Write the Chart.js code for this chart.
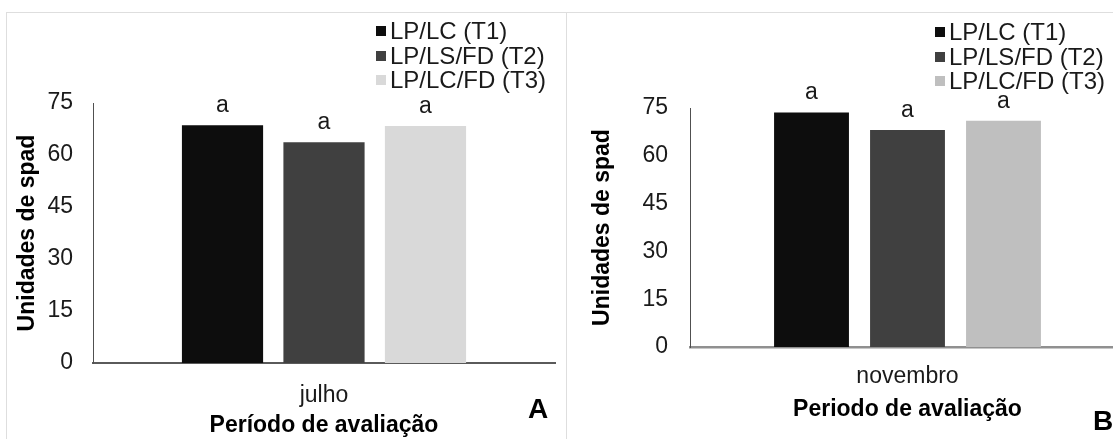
<!DOCTYPE html>
<html>
<head>
<meta charset="utf-8">
<script src="https://cdn.jsdelivr.net/npm/chart.js@4.4.1/dist/chart.umd.min.js"></script>
<style>
  html, body { margin: 0; padding: 0; background: #fff; width: 1113px; height: 439px; overflow: hidden; }
  body { position: relative; font-family: "Liberation Sans", Arial, sans-serif; color: #1a1a1a; }
  .panel { position: absolute; box-sizing: border-box; border: 1.5px solid #dedede; border-bottom: none; }
  canvas { position: absolute; top: 0; }
  .legend { position: absolute; font-size: 24px; line-height: 24.5px; color: #1a1a1a; }
  .legend .row { display: flex; align-items: center; white-space: nowrap; }
  .legend .box { width: 10px; height: 10px; margin-right: 4px; flex: none; }
  .tag { position: absolute; font-weight: bold; font-size: 28px; line-height: 32px; color: #000; }
</style>
</head>
<body>
<div class="panel" style="left:6px;top:12px;width:561px;height:440px;"></div>
<div class="panel" style="left:566px;top:12px;width:560px;height:440px;border-right:none;"></div>
<canvas id="chartA" width="566" height="439" style="left:0px;"></canvas>
<canvas id="chartB" width="580" height="439" style="left:566px;"></canvas>
<div class="legend" id="legendA" style="left:376px;top:19px;"></div>
<div class="legend" id="legendB" style="left:935px;top:20px;"></div>
<div class="tag" style="left:528px;top:393px;">A</div>
<div class="tag" style="left:1093px;top:405px;">B</div>
<script>
// ---- data ----
const categoriesA = ['julho'];
const categoriesB = ['novembro'];
const seriesNames = ['LP/LC (T1)', 'LP/LS/FD (T2)', 'LP/LC/FD (T3)'];
const valuesA = [68.6, 63.7, 68.4];
const valuesB = [73.6, 68.1, 71.0];
const lettersA = ['a', 'a', 'a'];
const lettersB = ['a', 'a', 'a'];
const yTickMin = 0, yTickMax = 75, yTickStep = 15;
const yTitle = 'Unidades de spad';
const xTitleA = 'Período de avaliação';
const xTitleB = 'Periodo de avaliação';
const coloursA = ['#0d0d0d', '#404040', '#d9d9d9'];
const coloursB = ['#0d0d0d', '#404040', '#bfbfbf'];

const FONT = '"Liberation Sans", Arial, sans-serif';

function buildLegend(id, colours) {
  const el = document.getElementById(id);
  seriesNames.forEach((n, i) => {
    const row = document.createElement('div');
    row.className = 'row';
    const b = document.createElement('span');
    b.className = 'box';
    b.style.background = colours[i];
    const t = document.createElement('span');
    t.textContent = n;
    row.appendChild(b); row.appendChild(t);
    el.appendChild(row);
  });
}
buildLegend('legendA', coloursA);
buildLegend('legendB', coloursB);

const letterPlugin = {
  id: 'letters',
  afterDatasetsDraw(chart, args, opts) {
    const ctx = chart.ctx;
    ctx.save();
    ctx.font = '23px ' + FONT;
    ctx.fillStyle = '#1a1a1a';
    ctx.textAlign = 'center';
    ctx.textBaseline = 'alphabetic';
    chart.data.datasets.forEach((ds, i) => {
      const meta = chart.getDatasetMeta(i);
      const bar = meta.data[0];
      ctx.fillText(opts.letters[i], bar.x, bar.y - 13);
    });
    ctx.restore();
  }
};

function makeChart(id, cfg) {
  const datasets = seriesNames.map((n, i) => ({
    label: n,
    data: [cfg.values[i]],
    backgroundColor: cfg.colours[i],
    borderWidth: 0,
    categoryPercentage: cfg.catPct,
    barPercentage: cfg.barPct
  }));
  return new Chart(document.getElementById(id), {
    type: 'bar',
    data: { labels: cfg.categories, datasets },
    plugins: [letterPlugin],
    options: {
      responsive: false,
      animation: false,
      devicePixelRatio: 1,
      layout: { padding: { top: cfg.plotTop, right: cfg.padRight, left: 0, bottom: 0 } },
      plugins: {
        legend: { display: false },
        tooltip: { enabled: false },
        letters: { letters: cfg.letters }
      },
      scales: {
        x: {
          grid: { display: false, drawTicks: false, tickLength: 0 },
          border: { display: true, color: cfg.xBorderColor, width: cfg.xBorderWidth },
          ticks: { color: '#1a1a1a', font: { family: FONT, size: 23 }, padding: cfg.xTickPad },
          title: { display: true, text: cfg.xTitle, color: '#000', font: { family: FONT, size: 23, weight: 'bold' }, padding: { top: 0, bottom: cfg.xTitlePad } },
          afterFit: (s) => { s.height = cfg.xAxisHeight; }
        },
        y: {
          min: yTickMin, max: yTickMax,
          grid: { display: false, drawTicks: false, tickLength: 0 },
          border: { display: true, color: '#505050', width: 1 },
          ticks: { stepSize: yTickStep, color: '#1a1a1a', font: { family: FONT, size: 23 }, padding: cfg.yTickPad },
          title: { display: true, text: yTitle, color: '#000', font: { family: FONT, size: 23, weight: 'bold' }, padding: { top: cfg.yTitlePad, bottom: 0 } },
          afterFit: (s) => { s.width = cfg.yAxisWidth; }
        }
      }
    }
  });
}

makeChart('chartA', {
  categories: categoriesA, values: valuesA, colours: coloursA, letters: lettersA,
  catPct: 0.659, barPct: 0.80,
  plotTop: 103, padRight: 11,
  xAxisHeight: 76, yAxisWidth: 93,
  xTickPad: 19, xTitle: xTitleA, xTitlePad: 0,
  yTickPad: 20, yTitlePad: 14,
  xBorderColor: '#5a5a5a', xBorderWidth: 2
});

makeChart('chartB', {
  categories: categoriesB, values: valuesB, colours: coloursB, letters: lettersB,
  catPct: 0.662, barPct: 0.78,
  plotTop: 108, padRight: 21,
  xAxisHeight: 92, yAxisWidth: 124,
  xTickPad: 16, xTitle: xTitleB, xTitlePad: 16,
  yTickPad: 22, yTitlePad: 22.7,
  xBorderColor: '#909090', xBorderWidth: 2.5
});
</script>
</body>
</html>
